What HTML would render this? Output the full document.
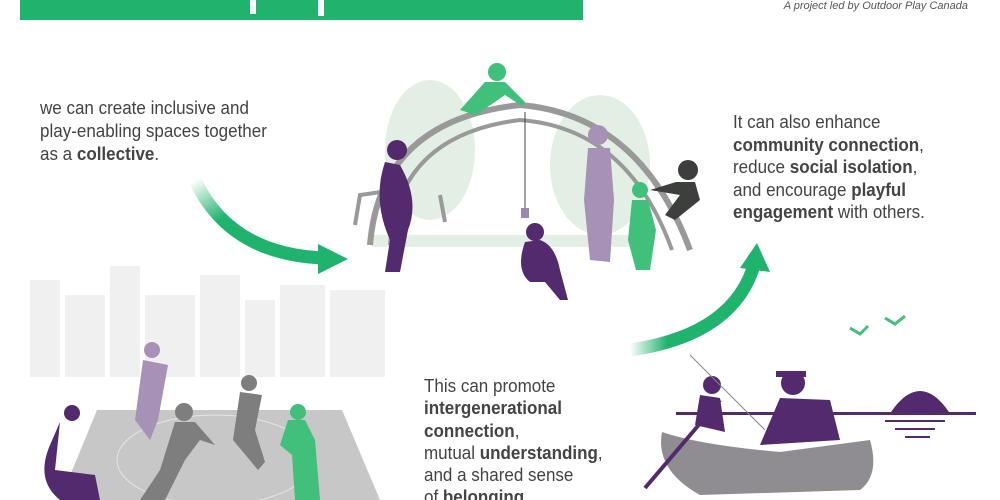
<!DOCTYPE html><html><head><style>body{margin:0;background:#fff}svg{display:block}text{font-family:"Liberation Sans",sans-serif}</style></head><body>
<svg width="1000" height="500" viewBox="0 0 1000 500" xmlns="http://www.w3.org/2000/svg">
<defs>
<linearGradient id="g1" x1="0" y1="0" x2="1" y2="1"><stop offset="0" stop-color="#1fb36e" stop-opacity="0"/><stop offset=".35" stop-color="#1fb36e"/></linearGradient>
<linearGradient id="g2" x1="0" y1="0" x2="1" y2="0"><stop offset="0" stop-color="#1fb36e" stop-opacity="0"/><stop offset=".3" stop-color="#1fb36e"/></linearGradient>
</defs>
<rect x="20" y="0" width="563" height="20" fill="#1fb36e"/>
<rect x="250" y="0" width="6" height="14" fill="#fff"/><rect x="318" y="0" width="6" height="16" fill="#fff"/>
<text x="968" y="9" font-size="11" font-style="italic" fill="#555" text-anchor="end">A project led by Outdoor Play Canada</text>
<g fill="#e3efe5"><ellipse cx="430" cy="150" rx="45" ry="70"/><ellipse cx="600" cy="165" rx="50" ry="70"/><rect x="372" y="235" width="280" height="12"/></g>
<path d="M370 245 Q380 120 520 105 Q640 115 690 250" fill="none" stroke="#999" stroke-width="6"/>
<path d="M390 245 Q398 135 520 120 Q628 128 672 250" fill="none" stroke="#999" stroke-width="4"/>
<path d="M355 225 L360 195 L395 190 M440 195 L445 222" fill="none" stroke="#999" stroke-width="4"/>
<line x1="525" y1="112" x2="525" y2="212" stroke="#444"/><rect x="521" y="208" width="8" height="10" fill="#9b86ad"/>
<g fill="#532a6e"><circle cx="397" cy="150" r="10"/><path d="M385 162 Q372 200 390 240 L385 272 L400 272 L408 230 Q420 200 400 165Z"/>
<circle cx="535" cy="232" r="9"/><path d="M525 242 Q515 270 530 282 L545 282 L560 300 L568 300 L560 270 Q555 245 540 240Z"/></g>
<g fill="#a891b6"><circle cx="598" cy="135" r="10"/><path d="M588 148 L584 200 L590 260 L610 262 L614 200 L610 148Z"/></g>
<g fill="#40c07a"><circle cx="497" cy="72" r="9"/><path d="M485 82 L460 110 L476 115 L505 95 L522 106 L525 102 L505 82Z"/>
<circle cx="640" cy="190" r="8"/><path d="M632 200 L628 240 L636 270 L650 270 L656 230 L648 200Z"/></g>
<g fill="#3d3f3d"><circle cx="688" cy="170" r="10"/><path d="M676 182 L650 190 L680 195 L665 215 L675 220 L700 200 L695 182Z"/></g>
<path d="M195 180 Q230 255 325 258" fill="none" stroke="url(#g1)" stroke-width="13"/>
<polygon points="318,244 348,259 318,274" fill="#1fb36e"/>
<path d="M630 350 Q735 335 755 262" fill="none" stroke="url(#g2)" stroke-width="13"/>
<polygon points="740,268 757,243 770,272" fill="#1fb36e"/>
<g fill="#f0f0f0"><rect x="30" y="280" width="30" height="97"/><rect x="65" y="295" width="40" height="82"/><rect x="110" y="266" width="30" height="111"/><rect x="145" y="295" width="50" height="82"/><rect x="200" y="275" width="40" height="102"/><rect x="245" y="300" width="30" height="77"/><rect x="280" y="285" width="45" height="92"/><rect x="330" y="290" width="55" height="87"/></g>
<polygon points="97,410 342,410 380,500 60,500" fill="#c7c7c7"/>
<ellipse cx="215" cy="460" rx="98" ry="45" fill="none" stroke="#e5e5e5"/>
<g fill="#7d7e7d"><circle cx="184" cy="412" r="9"/><path d="M175 422 L160 470 L140 500 L165 500 L185 460 L200 440 L215 445 L195 422Z"/><circle cx="249" cy="383" r="8"/><path d="M240 392 L233 440 L258 470 L265 462 L255 430 L262 395Z"/></g>
<g fill="#a891b6"><circle cx="152" cy="350" r="8"/><path d="M143 360 L135 420 L150 440 L158 420 L168 365Z"/></g>
<g fill="#40c07a"><circle cx="298" cy="412" r="8"/><path d="M288 420 L280 445 L292 455 L295 500 L320 500 L315 440 L305 420Z"/></g>
<g fill="#532a6e"><circle cx="72" cy="413" r="8"/><path d="M60 422 L55 470 L95 475 L100 500 L60 500 Q35 480 50 445Z"/></g>
<rect x="676" y="412" width="300" height="3" fill="#532a6e"/>
<g fill="#532a6e"><circle cx="712" cy="385" r="9"/><path d="M700 395 L695 425 L725 432 L720 398Z"/><circle cx="793" cy="383" r="12"/><rect x="776" y="371" width="30" height="6"/><path d="M780 398 L760 445 L840 440 L830 400Z"/>
<path d="M891 412 Q920 370 949 412Z"/><rect x="885" y="420" width="60" height="2"/><rect x="895" y="428" width="40" height="2"/><rect x="905" y="436" width="25" height="2"/></g>
<path d="M662 432 Q700 445 780 452 L870 440 Q880 475 860 490 L700 495 Q655 470 662 432Z" fill="#8f8c92"/>
<line x1="645" y1="488" x2="720" y2="400" stroke="#532a6e" stroke-width="4"/>
<line x1="690" y1="355" x2="765" y2="430" stroke="#888" stroke-width="1"/>
<path d="M850 328 l10 6 l8 -8 M885 318 l10 6 l10 -8" stroke="#40c07a" stroke-width="3" fill="none"/>
<g font-size="18.3" fill="#444">
<g transform="translate(40,0) scale(0.93,1)">
<text x="0" y="114">we can create inclusive and</text>
<text x="0" y="137">play-enabling spaces together</text>
<text x="0" y="160">as a <tspan font-weight="bold">collective</tspan>.</text>
</g>
<g transform="translate(733,0) scale(0.93,1)">
<text x="0" y="128">It can also enhance</text>
<text x="0" y="151" font-weight="bold">community connection<tspan font-weight="normal">,</tspan></text>
<text x="0" y="173">reduce <tspan font-weight="bold">social isolation</tspan>,</text>
<text x="0" y="196">and encourage <tspan font-weight="bold">playful</tspan></text>
<text x="0" y="218"><tspan font-weight="bold">engagement</tspan> with others.</text>
</g>
<g transform="translate(424,0) scale(0.93,1)">
<text x="0" y="392">This can promote</text>
<text x="0" y="414" font-weight="bold">intergenerational</text>
<text x="0" y="437"><tspan font-weight="bold">connection</tspan>,</text>
<text x="0" y="459">mutual <tspan font-weight="bold">understanding</tspan>,</text>
<text x="0" y="481">and a shared sense</text>
<text x="0" y="503">of <tspan font-weight="bold">belonging</tspan></text>
</g>
</g>
</svg></body></html>
